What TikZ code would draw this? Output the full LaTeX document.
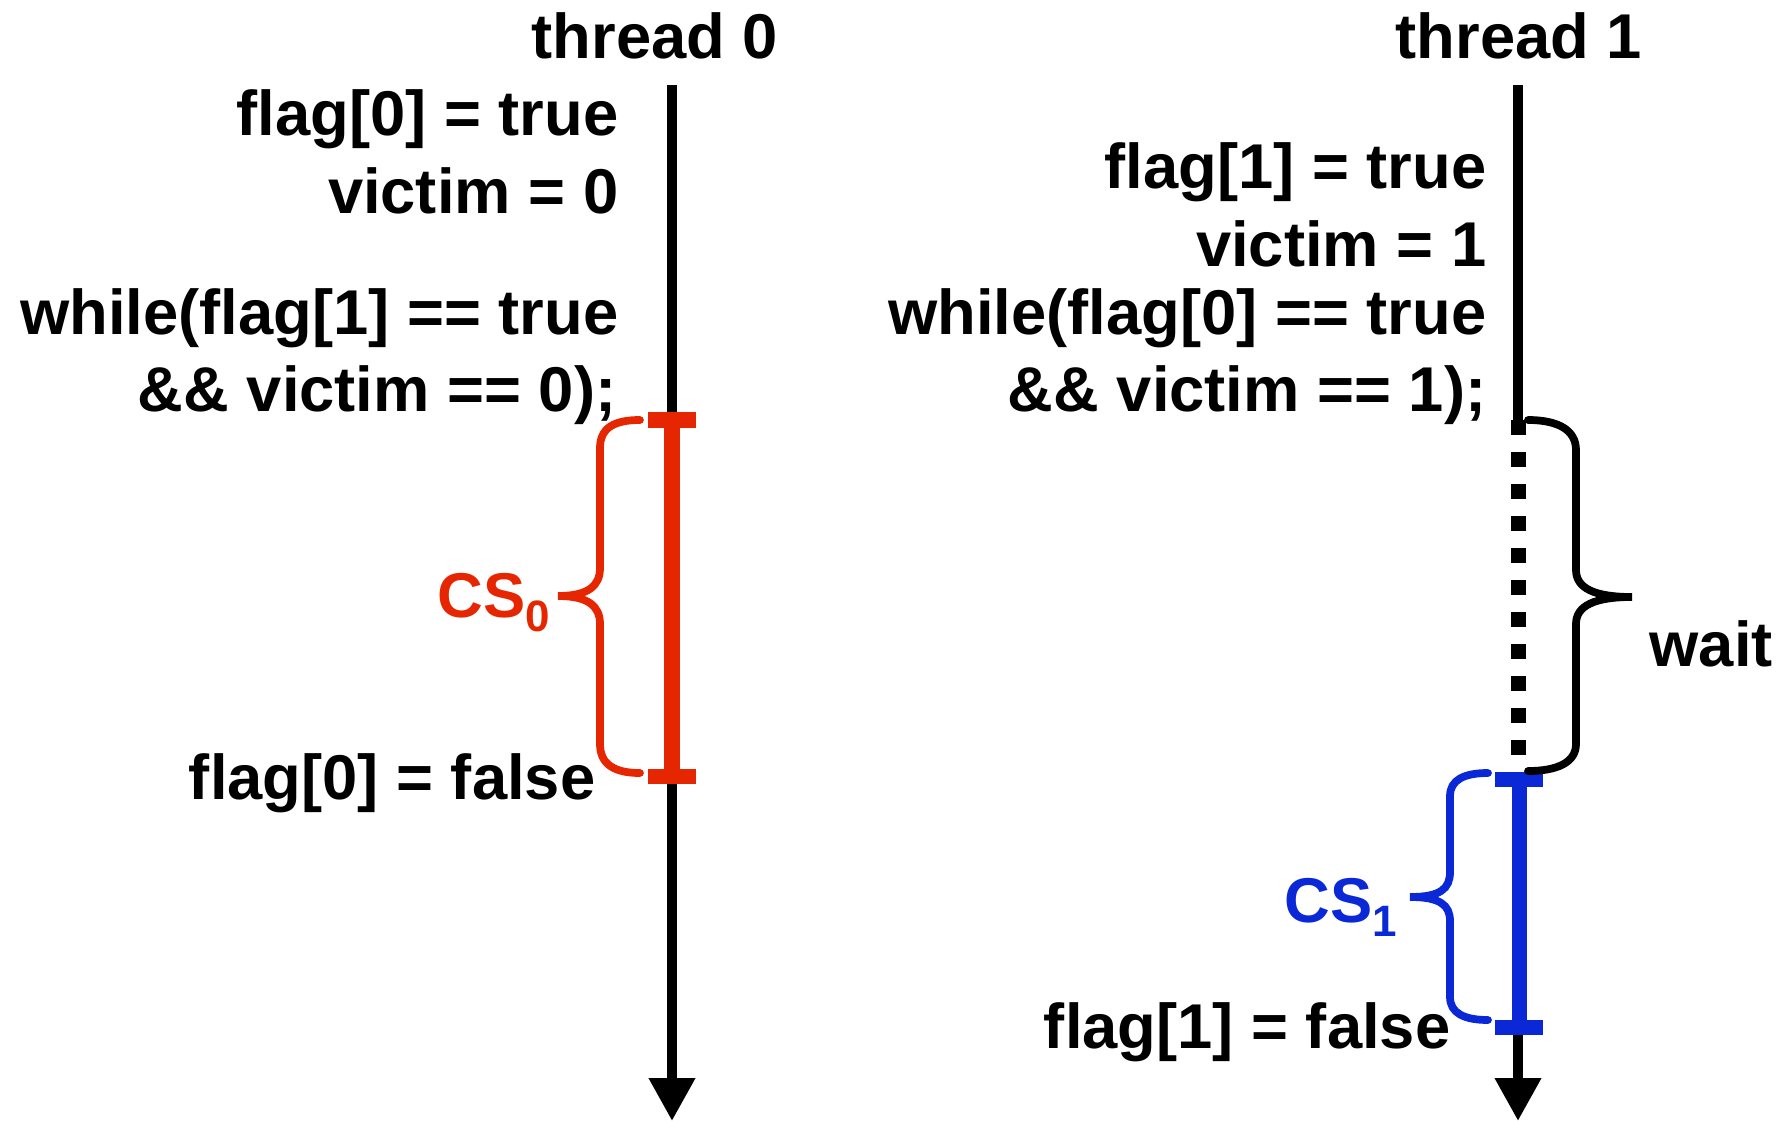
\documentclass[tikz,border=0pt]{standalone}
\usepackage{fontspec}
\setmainfont{Liberation Sans}
\usetikzlibrary{arrows.meta}

\definecolor{csred}{RGB}{229,38,0}
\definecolor{csblue}{RGB}{10,40,214}
% lowered index after CS
\newcommand{\lowidx}[1]{\raisebox{-4.2pt}{\fontsize{12.5}{14}\selectfont #1}}

\begin{document}
\begin{tikzpicture}[x=0.01cm, y=-0.01cm,
  font=\bfseries\fontsize{18}{22}\selectfont,
  code/.style={anchor=base east, inner sep=0pt},
  title/.style={anchor=base, inner sep=0pt},
  tag/.style={anchor=base west, inner sep=0pt},
  timeline/.style={line width=2.85pt, -{Triangle[length=12.2pt, width=12.5pt]}},
  waitline/.style={line width=4.27pt, dash pattern=on 4.27pt off 4.84pt},
  csline/.style={line width=4.27pt},
  capbar/.style={rectangle, inner sep=0pt, minimum width=0.48cm, minimum height=0.15cm},
  bracepen/.style={line width=2.2pt, line cap=round}]
  \useasboundingbox (0,0) rectangle (1787,1121);

  % time axes
  \coordinate (t0top) at (672,85);  \coordinate (t0end) at (672,1121);
  \coordinate (t1top) at (1518,85); \coordinate (t1wait) at (1518,420);
  \coordinate (t1go) at (1518,755); \coordinate (t1run) at (1518,779);
  \coordinate (t1end) at (1518,1121);

  \node[title] (th0) at (655,58) {thread 0};
  \node[title] (th1) at (1519,58) {thread 1};

  \draw[timeline] (t0top) -- (t0end);
  \draw[line width=2.85pt] (t1top) -- (t1wait);
  \draw[waitline] (t1wait) -- (t1go);
  \draw[timeline] (t1run) -- (t1end);

  % thread 0 code
  \node[code] (flag0on) at (619,136) {flag[0] = true};
  \node[code] (victim0) at (619,213) {victim = 0};
  \node[code] (while0) at (619,334) {while(flag[1] == true};
  \node[code] (cond0) at (617,411) {\&\& victim == 0);};
  \node[code] (flag0off) at (596,799) {flag[0] = false};

  % thread 1 code
  \node[code] (flag1on) at (1487,189) {flag[1] = true};
  \node[code] (victim1) at (1487,266) {victim = 1};
  \node[code] (while1) at (1487,334) {while(flag[0] == true};
  \node[code] (cond1) at (1487,411) {\&\& victim == 1);};
  \node[code] (flag1off) at (1451,1048) {flag[1] = false};

  % critical sections
  \node[capbar, fill=csred] (cs0in) at (672,420) {};
  \node[capbar, fill=csred] (cs0out) at (672,776) {};
  \draw[csline, csred] (cs0in.center) -- (cs0out.center);
  \node[capbar, fill=csblue] (cs1in) at (1519,779) {};
  \node[capbar, fill=csblue] (cs1out) at (1519,1027) {};
  \draw[csline, csblue] (cs1in.center) -- (cs1out.center);

  % braces
  \draw[bracepen, csred] (640,420) .. controls (614,420) and (600,428) .. (600,448)
    -- (600,568) .. controls (600,586) and (588,596) .. (558,596)
    .. controls (588,596) and (600,606) .. (600,624)
    -- (600,744) .. controls (600,764) and (614,773) .. (640,773);
  \draw[bracepen] (1528,420) .. controls (1558,420) and (1576,430) .. (1576,450)
    -- (1576,570) .. controls (1576,588) and (1594,597) .. (1632,597)
    .. controls (1594,597) and (1576,606) .. (1576,624)
    -- (1576,744) .. controls (1576,762) and (1558,771) .. (1528,771);
  \draw[bracepen, csblue] (1488,773) .. controls (1464,773) and (1450,780) .. (1450,796)
    -- (1450,872) .. controls (1450,889) and (1440,897) .. (1410,897)
    .. controls (1440,897) and (1450,905) .. (1450,921)
    -- (1450,997) .. controls (1450,1013) and (1464,1020) .. (1488,1020);

  \node[tag, csred] (cs0) at (437,617) {CS\lowidx{0}};
  \node[tag, csblue] (cs1) at (1284,922) {CS\lowidx{1}};
  \node[tag] (wait) at (1649,666) {wait};
\end{tikzpicture}
\end{document}
